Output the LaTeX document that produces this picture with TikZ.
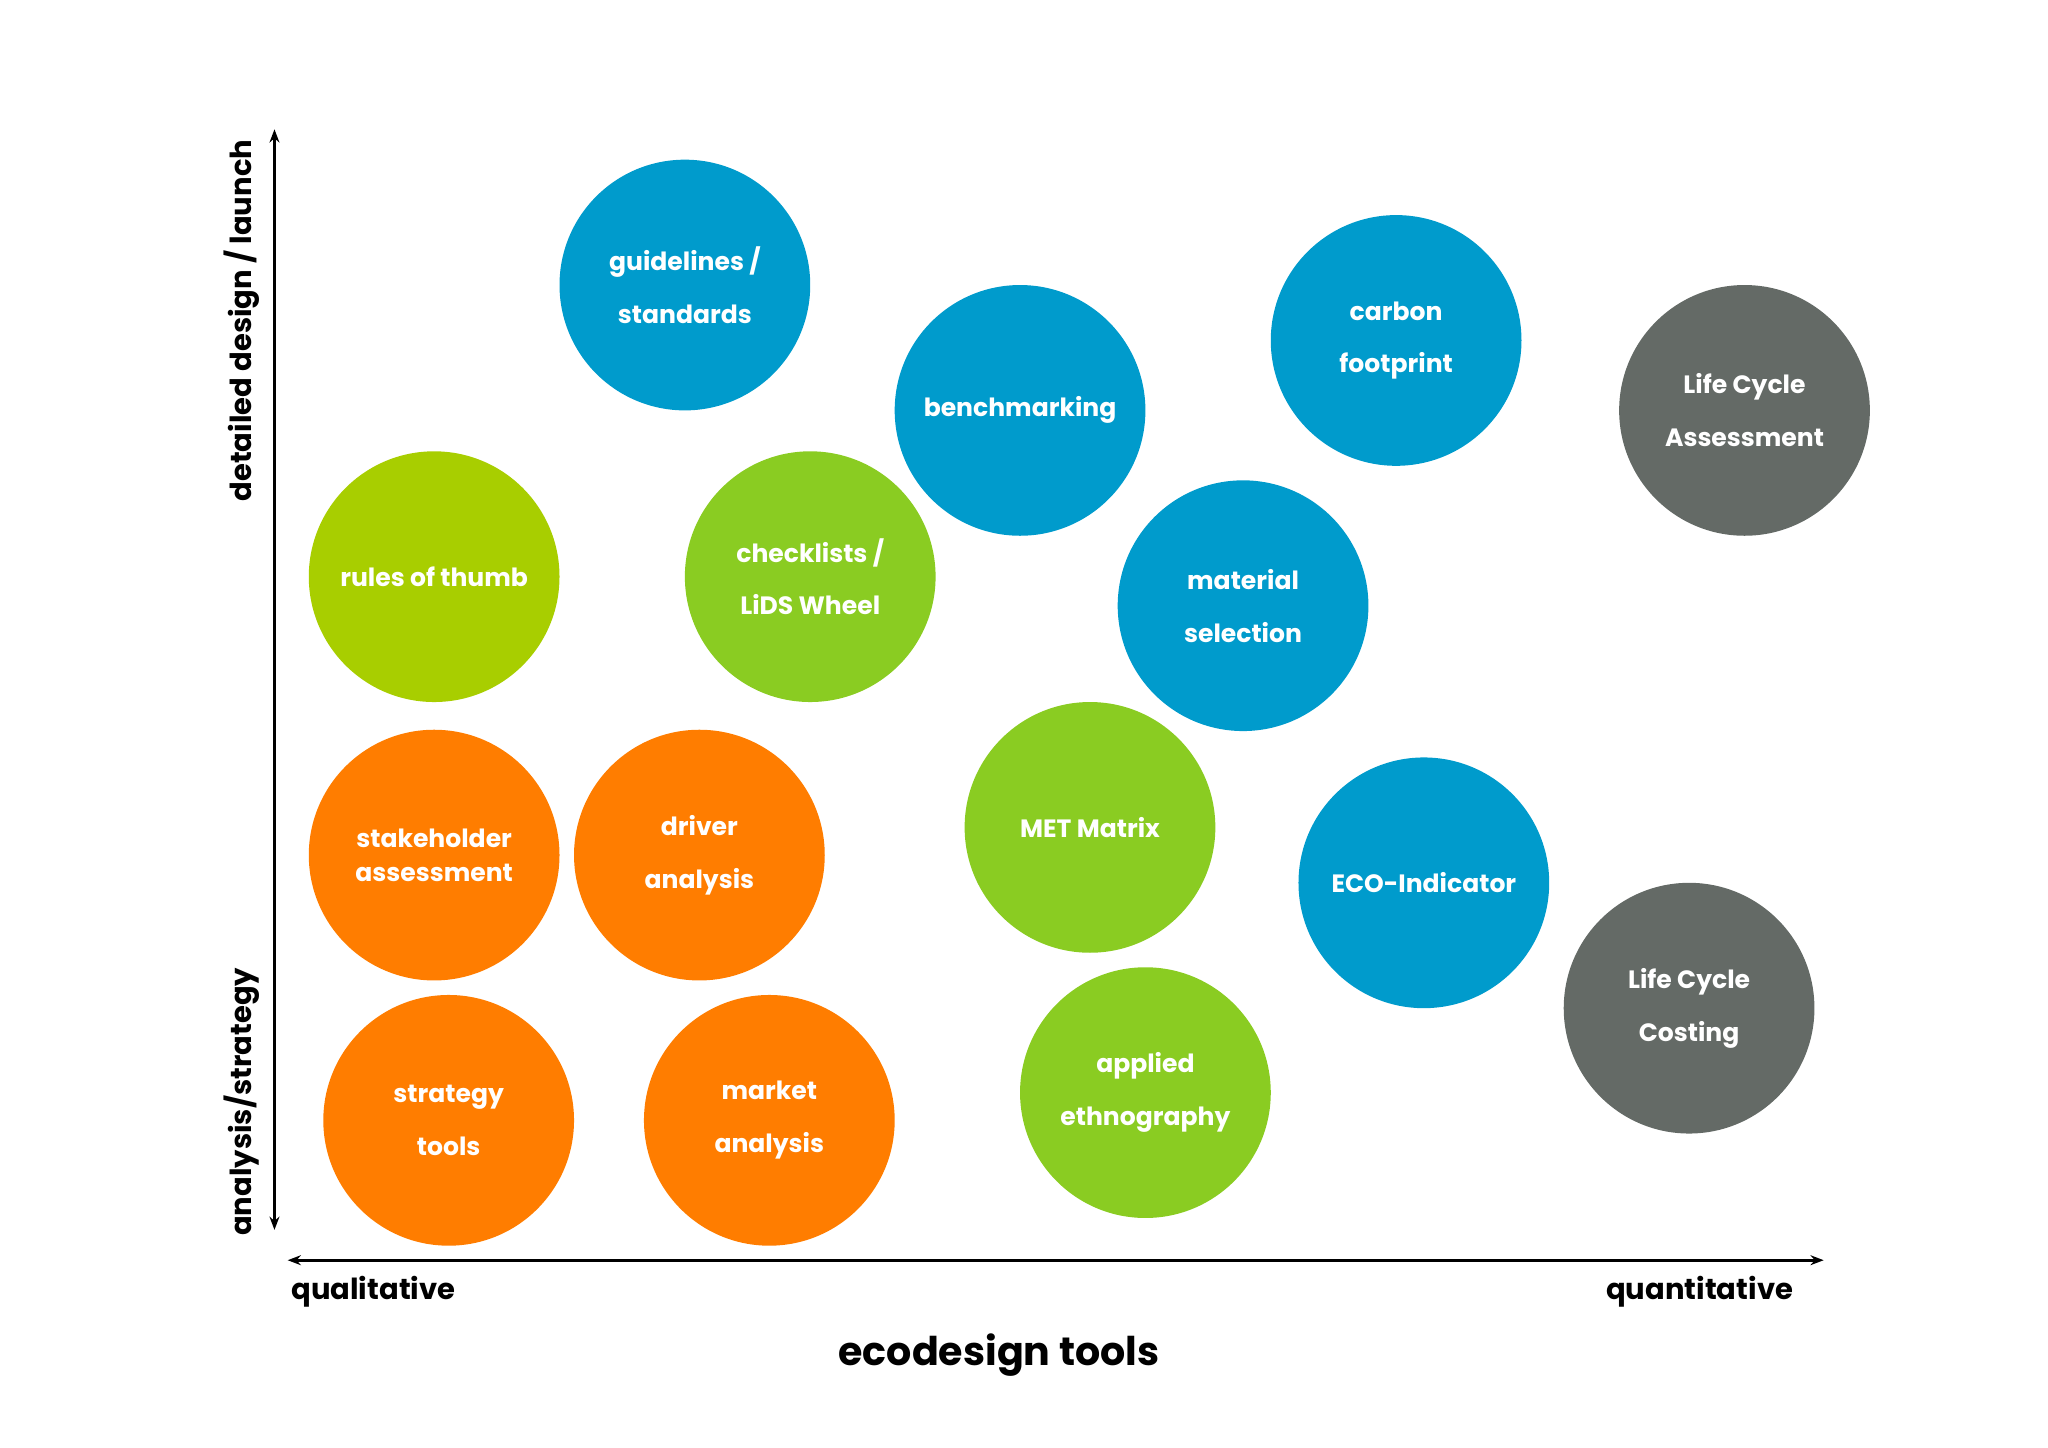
\documentclass[tikz,border=0pt]{standalone}
\usepackage{fontspec}
\usetikzlibrary{arrows.meta}
\setmainfont{Poppins}
\definecolor{cblue}{RGB}{0,155,204}
\definecolor{cgreen}{RGB}{138,204,34}
\definecolor{cyel}{RGB}{168,206,0}
\definecolor{corange}{RGB}{255,125,0}
\definecolor{cgray}{RGB}{100,106,102}
\begin{document}
\begin{tikzpicture}[x=1pt,y=-1pt,
  bub/.style={circle,minimum size=190pt,inner sep=0pt,text=white,align=center,
    font=\fontsize{19}{40}\selectfont\bfseries},
  axl/.style={font=\fontsize{22}{26}\selectfont\bfseries}]
\useasboundingbox (0,0) rectangle (1552,1097);
\node[bub,fill=cblue] (g) at (519,216) {guidelines /\\standards};
\node[bub,fill=cblue] (b) at (773,311) {benchmarking};
\node[bub,fill=cblue] (c) at (1058,258) {carbon\\footprint};
\node[bub,fill=cgray] (lca) at (1322,311) {Life Cycle\\Assessment};
\node[bub,fill=cyel] (r) at (329,437) {rules of thumb};
\node[bub,fill=cgreen] (ch) at (614,437) {checklists /\\LiDS Wheel};
\node[bub,fill=cblue] (m) at (942,459) {material\\selection};
\node[bub,fill=corange,font=\fontsize{19}{26}\selectfont\bfseries] (s) at (329,648) {stakeholder\\assessment};
\node[bub,fill=corange] (d) at (530,648) {driver\\analysis};
\node[bub,fill=cgreen] (met) at (826,627) {MET Matrix};
\node[bub,fill=cblue] (e) at (1079,669) {ECO-Indicator};
\node[bub,fill=cgray] (lcc) at (1280,764) {Life Cycle\\Costing};
\node[bub,fill=corange] (st) at (340,849) {strategy\\tools};
\node[bub,fill=corange] (ma) at (583,849) {market\\analysis};
\node[bub,fill=cgreen] (ap) at (868,828) {applied\\ethnography};
\coordinate (vb) at (208,932); \coordinate (vt) at (208,98);
\coordinate (hl) at (218,955); \coordinate (hr) at (1382,955);
\draw[line width=2.5pt,{Stealth[length=10pt]}-{Stealth[length=10pt]}] (vb) -- (vt);
\draw[line width=2.5pt,{Stealth[length=10pt]}-{Stealth[length=10pt]}] (hl) -- (hr);
\node[axl,rotate=90] (dl) at (183,243) {detailed design / launch};
\node[axl,rotate=90] (as) at (183,835) {analysis/strategy};
\node[axl] (q1) at (283,979) {qualitative};
\node[axl] (q2) at (1288,979) {quantitative};
\node[font=\fontsize{30}{34}\selectfont\bfseries] (t) at (757,1027) {ecodesign tools};
\end{tikzpicture}
\end{document}
